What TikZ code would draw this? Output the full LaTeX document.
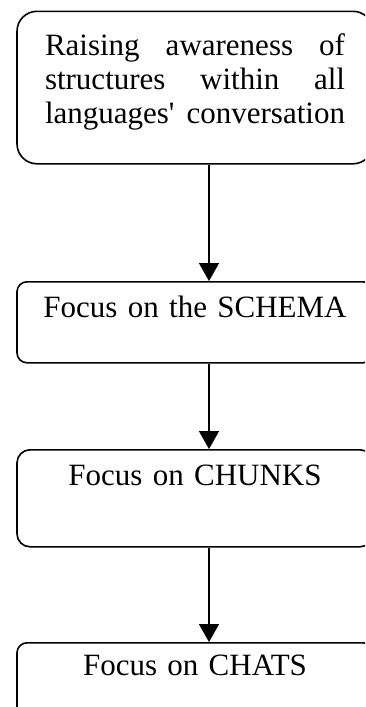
\documentclass[tikz,border=0pt]{standalone}
\usepackage{fontspec}
\setmainfont{Liberation Serif}
\usetikzlibrary{positioning,arrows.meta}

\begin{document}
\begin{tikzpicture}[
  x=1pt,y=1pt,
  >={Triangle[width=20pt,length=18pt]},
  stage/.style={draw,line width=1.6pt,anchor=north,minimum width=356pt,
    text width=316pt,inner xsep=20pt,inner ysep=15pt,align=center,
    font=\fontsize{31}{34}\selectfont},
  flow/.style={->,line width=1.6pt}
]
\useasboundingbox (0,0) rectangle (365,-707);
\clip (0,0) rectangle (365,-707);

% Stages
\node[stage,rounded corners=20pt,minimum height=152.5pt,text depth=85pt] (aware) at (195,-10.5)
  {\hbox to 300pt{Raising\hfill awareness\hfill of}
   \hbox to 300pt{structures\hfill within\hfill all}
   \hbox to 300pt{languages\textquotesingle{}\hfill conversation}};
\node[stage,rounded corners=10pt,text height=21pt,text depth=30pt]
  (schema) at (195,-281) {Focus on the SCHEMA};
\node[stage,rounded corners=13pt,text height=21pt,text depth=46pt]
  (chunks) at (195,-449) {Focus on CHUNKS};
\node[stage,rounded corners=10pt,text height=18pt,text depth=50pt]
  (chats) at (195,-642) {Focus on CHATS};

% Arrows between stages
\draw[flow] ([xshift=14pt]aware.south) -- ([xshift=14pt]schema.north);
\draw[flow] ([xshift=14pt]schema.south) -- ([xshift=14pt]chunks.north);
\draw[flow] ([xshift=14pt]chunks.south) -- ([xshift=14pt]chats.north);

\end{tikzpicture}
\end{document}
